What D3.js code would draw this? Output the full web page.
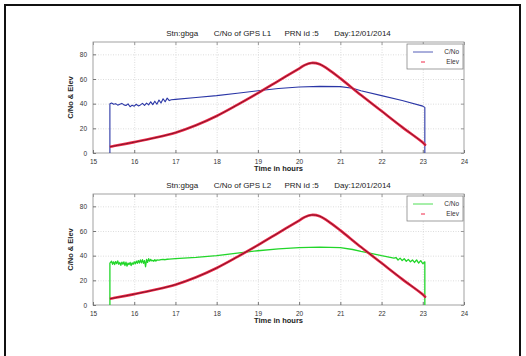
<!DOCTYPE html>
<html><head><meta charset="utf-8">
<script src="https://cdn.jsdelivr.net/npm/d3@7"></script>
<style>
body{margin:0;background:#fff;}
svg{display:block;font-family:"Liberation Sans",Arial,sans-serif;}
</style></head>
<body>
<svg id="c" width="526" height="356"></svg>
<script>
// ---- data ----
const xTicks = [15,16,17,18,19,20,21,22,23,24];
const yTicks = [0,20,40,60,80];

const elevTime = [15.41,15.5,16,16.5,17,17.5,18,18.5,19,19.5,20,20.15,20.3,20.5,20.7,21,21.5,22,22.5,23,23.07];
const elevVal  = [5,5.6,8.8,12.3,16.5,22.5,30,39,48.5,58.5,68.5,71.5,73,72,68,60.5,47,34,21,8.5,6];

const l1Time = [15.41,15.41,15.45,15.5,15.55,15.6,15.65,15.7,15.75,15.8,15.85,15.9,15.95,16.0,16.05,16.1,16.15,16.2,16.25,16.3,16.35,16.4,16.45,16.5,16.55,16.6,16.65,16.7,16.75,16.8,16.85,16.9,17,17.5,18,18.5,19,19.5,20,20.5,21,21.3,21.5,22,22.5,23,23.05,23.05];
const l1Cno  = [0,40,40.5,39.5,40,38.8,39.6,40.2,39,38.5,39.8,37.5,38.8,38,39.5,38.2,39,40.2,38.6,40.5,39,41.5,39.2,42,39.5,43,40.5,44,41.5,44.5,42.5,43.2,43.5,45,46.5,48.5,50.5,52.3,53.5,54,53.8,52.5,50.5,46.5,42.5,38,37,0];

const l2Time = [15.41,15.41,15.45,15.475,15.5,15.525,15.55,15.575,15.6,15.625,15.65,15.675,15.7,15.725,15.75,15.775,15.8,15.825,15.85,15.875,15.9,15.925,15.95,15.975,16.0,16.025,16.05,16.075,16.1,16.125,16.15,16.175,16.2,16.225,16.25,16.275,16.3,16.325,16.35,16.375,16.4,16.425,16.45,16.475,16.5,16.525,16.55,16.6,16.65,16.7,16.75,16.8,16.85,17,17.5,18,18.5,19,19.5,20,20.5,21,21.3,21.5,21.8,22,22.3,22.35,22.4,22.45,22.5,22.55,22.6,22.65,22.7,22.75,22.8,22.85,22.9,22.95,23.0,23.05,23.05];
const l2Cno  = [0,34,35.5,33,35,32.8,35.2,33.5,35.8,33,34.5,32.2,34.8,33,35,32,34.8,31.5,34,32.8,34.5,32,34.2,33,35,33.4,35.5,33.8,36,34,36.5,34.2,36.8,33.8,36,31,37,34.5,37.5,35.5,37,35.8,36.2,35.5,36.8,35.6,36.5,36.4,36.8,37,36.7,37.1,37.2,37.6,38.6,40,42,44,45.5,46.5,47,46.5,45,43.5,41.5,40,38,38.5,36.5,38,36,37.5,35.5,37,35,36.5,34.5,36.5,34,36,33.5,35,0];

const panels = [
  {top:42, title:"Stn:gbga       C/No of GPS L1      PRN id :5       Day:12/01/2014", time:l1Time, cno:l1Cno, color:"#2a36a6", width:1.1},
  {top:194, title:"Stn:gbga       C/No of GPS L2      PRN id :5       Day:12/01/2014", time:l2Time, cno:l2Cno, color:"#22d62a", width:1.3}
];

const svg = d3.select("#c");
// outer frame
svg.append("rect").attr("x",5).attr("y",5).attr("width",515).attr("height",360)
  .attr("fill","none").attr("stroke","#111").attr("stroke-width",2);

const L = 93, R = 464, H = 111;
const x = d3.scaleLinear().domain([15,24]).range([L,R]);

panels.forEach(p => {
  const y = d3.scaleLinear().domain([0,90]).range([p.top+H, p.top]);
  const g = svg.append("g");
  // grid
  g.append("g").attr("transform",`translate(0,${p.top+H})`)
    .call(d3.axisBottom(x).tickValues(xTicks.slice(1,-1)).tickSize(-H).tickFormat(""))
    .call(s=>{s.select(".domain").remove(); s.selectAll("line").attr("stroke","#cfcfcf").attr("stroke-dasharray","1,1.5").attr("stroke-width",0.7);});
  g.append("g").attr("transform",`translate(${L},0)`)
    .call(d3.axisLeft(y).tickValues(yTicks.slice(1)).tickSize(-(R-L)).tickFormat(""))
    .call(s=>{s.select(".domain").remove(); s.selectAll("line").attr("stroke","#cfcfcf").attr("stroke-dasharray","1,1.5").attr("stroke-width",0.7);});
  // box
  g.append("rect").attr("x",L).attr("y",p.top).attr("width",R-L).attr("height",H)
    .attr("fill","none").attr("stroke","#8a8a8a").attr("stroke-width",0.8);
  // axes
  const ax = g.append("g").attr("transform",`translate(0,${p.top+H})`)
    .call(d3.axisBottom(x).tickValues(xTicks).tickSizeInner(-3).tickSizeOuter(0).tickPadding(6));
  ax.select(".domain").remove();
  ax.selectAll("line").attr("stroke","#777");
  ax.selectAll("text").attr("font-size",6.5).attr("fill","#333");
  const ay = g.append("g").attr("transform",`translate(${L},0)`)
    .call(d3.axisLeft(y).tickValues(yTicks).tickSizeInner(-3).tickSizeOuter(0).tickPadding(6));
  ay.select(".domain").remove();
  ay.selectAll("line").attr("stroke","#777");
  ay.selectAll("text").attr("font-size",6.5).attr("fill","#333");
  // top/right ticks
  g.append("g").attr("transform",`translate(0,${p.top})`)
    .call(d3.axisTop(x).tickValues(xTicks).tickSizeInner(-3).tickSizeOuter(0).tickFormat(""))
    .call(s=>{s.select(".domain").remove(); s.selectAll("line").attr("stroke","#999");});
  g.append("g").attr("transform",`translate(${R},0)`)
    .call(d3.axisRight(y).tickValues(yTicks).tickSizeInner(-3).tickSizeOuter(0).tickFormat(""))
    .call(s=>{s.select(".domain").remove(); s.selectAll("line").attr("stroke","#999");});

  // C/No line
  const cnoPts = p.time.map((t,i)=>[t,p.cno[i]]);
  g.append("path").datum(cnoPts)
    .attr("d", d3.line().x(d=>x(d[0])).y(d=>y(d[1])))
    .attr("fill","none").attr("stroke",p.color).attr("stroke-width",p.width).attr("stroke-linejoin","round");
  // Elev
  const elevPts = elevTime.map((t,i)=>[t,elevVal[i]]);
  const eLine = d3.line().x(d=>x(d[0])).y(d=>y(d[1])).curve(d3.curveCatmullRom);
  g.append("path").datum(elevPts).attr("d",eLine)
    .attr("fill","none").attr("stroke","#f02848").attr("stroke-width",2.6);
  g.append("path").datum(elevPts).attr("d",eLine)
    .attr("fill","none").attr("stroke","#701426").attr("stroke-width",0.9);

  // title, labels
  svg.append("text").attr("x",(L+R)/2).attr("y",p.top-6).attr("text-anchor","middle")
    .attr("font-size",8).attr("fill","#222").style("white-space","pre").text(p.title);
  svg.append("text").attr("x",(L+R)/2).attr("y",p.top+H+18).attr("text-anchor","middle")
    .attr("font-size",7.5).attr("font-weight","bold").attr("fill","#222").text("Time in hours");
  svg.append("text").attr("transform",`translate(73,${p.top+H/2}) rotate(-90)`).attr("text-anchor","middle")
    .attr("font-size",7.5).attr("font-weight","bold").attr("fill","#222").text("C/No & Elev");

  // legend
  const lx = 407, ly = p.top+2;
  const lg = svg.append("g");
  lg.append("rect").attr("x",lx).attr("y",ly).attr("width",56).attr("height",25)
    .attr("fill","#fff").attr("stroke","#777").attr("stroke-width",0.7);
  lg.append("line").attr("x1",lx+6).attr("x2",lx+26).attr("y1",ly+8).attr("y2",ly+8)
    .attr("stroke",p.color).attr("stroke-width",0.8);
  lg.append("line").attr("x1",lx+14).attr("x2",lx+18).attr("y1",ly+18).attr("y2",ly+18)
    .attr("stroke","#f02848").attr("stroke-width",1);
  lg.append("text").attr("x",lx+52).attr("y",ly+10).attr("text-anchor","end").attr("font-size",6.5).attr("fill","#333").text("C/No");
  lg.append("text").attr("x",lx+52).attr("y",ly+20).attr("text-anchor","end").attr("font-size",6.5).attr("fill","#333").text("Elev");
});
</script>
</body></html>
